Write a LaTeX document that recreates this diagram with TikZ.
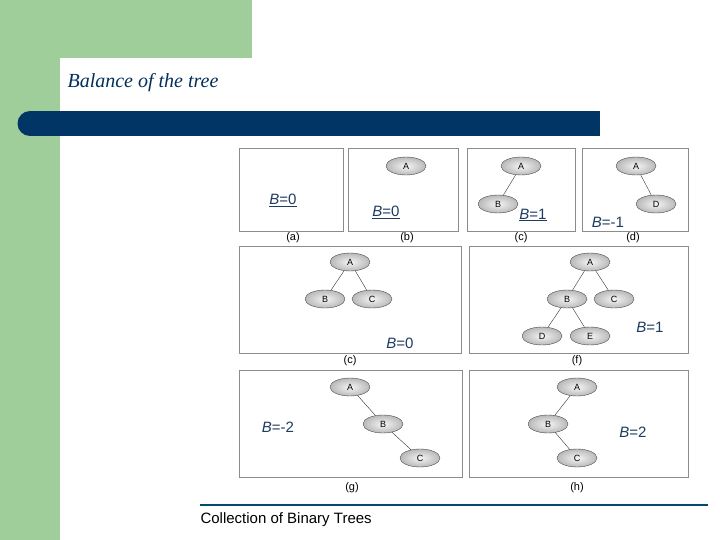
\documentclass[tikz,border=0pt]{standalone}
\usepackage{fontspec}
\setmainfont{Liberation Serif}
\setsansfont{Liberation Sans}
\usetikzlibrary{shapes.geometric}
\definecolor{bgreen}{RGB}{160,206,155}
\definecolor{navy}{RGB}{0,53,102}
\definecolor{blab}{RGB}{30,60,95}
\definecolor{boxg}{RGB}{140,140,140}
\tikzset{
  tn/.style={ellipse,draw=black!70,line width=0.4pt,minimum width=40pt,minimum height=18pt,inner sep=0pt,shading=radial,inner color=gray!8,outer color=gray!55,font=\sffamily\fontsize{9}{9}\selectfont},
  panel/.style={draw=boxg,line width=1pt},
  pcap/.style={font=\sffamily\fontsize{11}{11}\selectfont},
  bl/.style={text=blab,font=\sffamily\fontsize{15}{15}\selectfont},
  ed/.style={line width=0.4pt,black!80}
}
\begin{document}
\begin{tikzpicture}[x=1pt,y=-1pt]
\useasboundingbox (0,0) rectangle (720,540);
\fill[white] (0,0) rectangle (720,540);
\fill[bgreen] (0,0) rectangle (252,58);
\fill[bgreen] (0,0) rectangle (60,540);
\node[anchor=west,font=\itshape\fontsize{20}{20}\selectfont,text=navy!90!black] (title) at (64,83) {Balance of the tree};
\fill[navy] (30,111) rectangle (600,136);
\fill[navy] (30,123.5) circle (12.5);
% panels
\node[panel,minimum width=104pt,minimum height=83pt,anchor=north west] (pa) at (239,148) {};
\node[panel,minimum width=110pt,minimum height=83pt,anchor=north west] (pb) at (348,148) {};
\node[panel,minimum width=108pt,minimum height=83pt,anchor=north west] (pc) at (467,148) {};
\node[panel,minimum width=106pt,minimum height=83pt,anchor=north west] (pd) at (582,148) {};
\node[panel,minimum width=222pt,minimum height=107pt,anchor=north west] (pe) at (239,246) {};
\node[panel,minimum width=219pt,minimum height=107pt,anchor=north west] (pf) at (469,246) {};
\node[panel,minimum width=223pt,minimum height=107pt,anchor=north west] (pg) at (239,370) {};
\node[panel,minimum width=219pt,minimum height=107pt,anchor=north west] (ph) at (469,370) {};
% captions
\node[pcap] (ca) at (293,238) {(a)};
\node[pcap] (cb) at (407,238) {(b)};
\node[pcap] (cc) at (521,238) {(c)};
\node[pcap] (cd) at (633,238) {(d)};
\node[pcap] (ce) at (350,361) {(c)};
\node[pcap] (cf) at (577,361) {(f)};
\node[pcap] (cg) at (352,488) {(g)};
\node[pcap] (ch) at (577,488) {(h)};
% trees
\node[tn] (bA) at (406,166) {A};
\node[tn] (cA) at (521,166) {A};
\node[tn] (cB) at (498,204) {B};
\draw[ed] (cA) -- (cB);
\node[tn] (dA) at (636,166) {A};
\node[tn] (dD) at (656,204) {D};
\draw[ed] (dA) -- (dD);
\node[tn] (eA) at (350,262) {A};
\node[tn] (eB) at (325,299) {B};
\node[tn] (eC) at (372,299) {C};
\draw[ed] (eA) -- (eB); \draw[ed] (eA) -- (eC);
\node[tn] (fA) at (590,262) {A};
\node[tn] (fB) at (567,299) {B};
\node[tn] (fC) at (614,299) {C};
\node[tn] (fD) at (542,336) {D};
\node[tn] (fE) at (590,336) {E};
\draw[ed] (fA) -- (fB); \draw[ed] (fA) -- (fC);
\draw[ed] (fB) -- (fD); \draw[ed] (fB) -- (fE);
\node[tn] (gA) at (350,387) {A};
\node[tn] (gB) at (383,424) {B};
\node[tn] (gC) at (420,458) {C};
\draw[ed] (gA) -- (gB); \draw[ed] (gB) -- (gC);
\node[tn] (hA) at (577,387) {A};
\node[tn] (hB) at (548,424) {B};
\node[tn] (hC) at (577,458) {C};
\draw[ed] (hA) -- (hB); \draw[ed] (hB) -- (hC);
% balance labels
\node[bl] (la) at (283,200) {\underline{\textit{B}=0}};
\node[bl] (lb) at (386,212) {\underline{\textit{B}=0}};
\node[bl] (lc) at (533,215) {\underline{\textit{B}=1}};
\node[bl] (ld) at (608,222) {\textit{B}=-1};
\node[bl] (le) at (400,343) {\textit{B}=0};
\node[bl] (lf) at (650,327) {\textit{B}=1};
\node[bl] (lg) at (278,427) {\textit{B}=-2};
\node[bl] (lh) at (633,432) {\textit{B}=2};
% footer
\draw[line width=1.2pt,navy!70!teal] (200,505) -- (708,505);
\node[anchor=west,font=\sffamily\fontsize{15}{15}\selectfont] (foot) at (197,520) {Collection of Binary Trees};
\end{tikzpicture}
\end{document}
